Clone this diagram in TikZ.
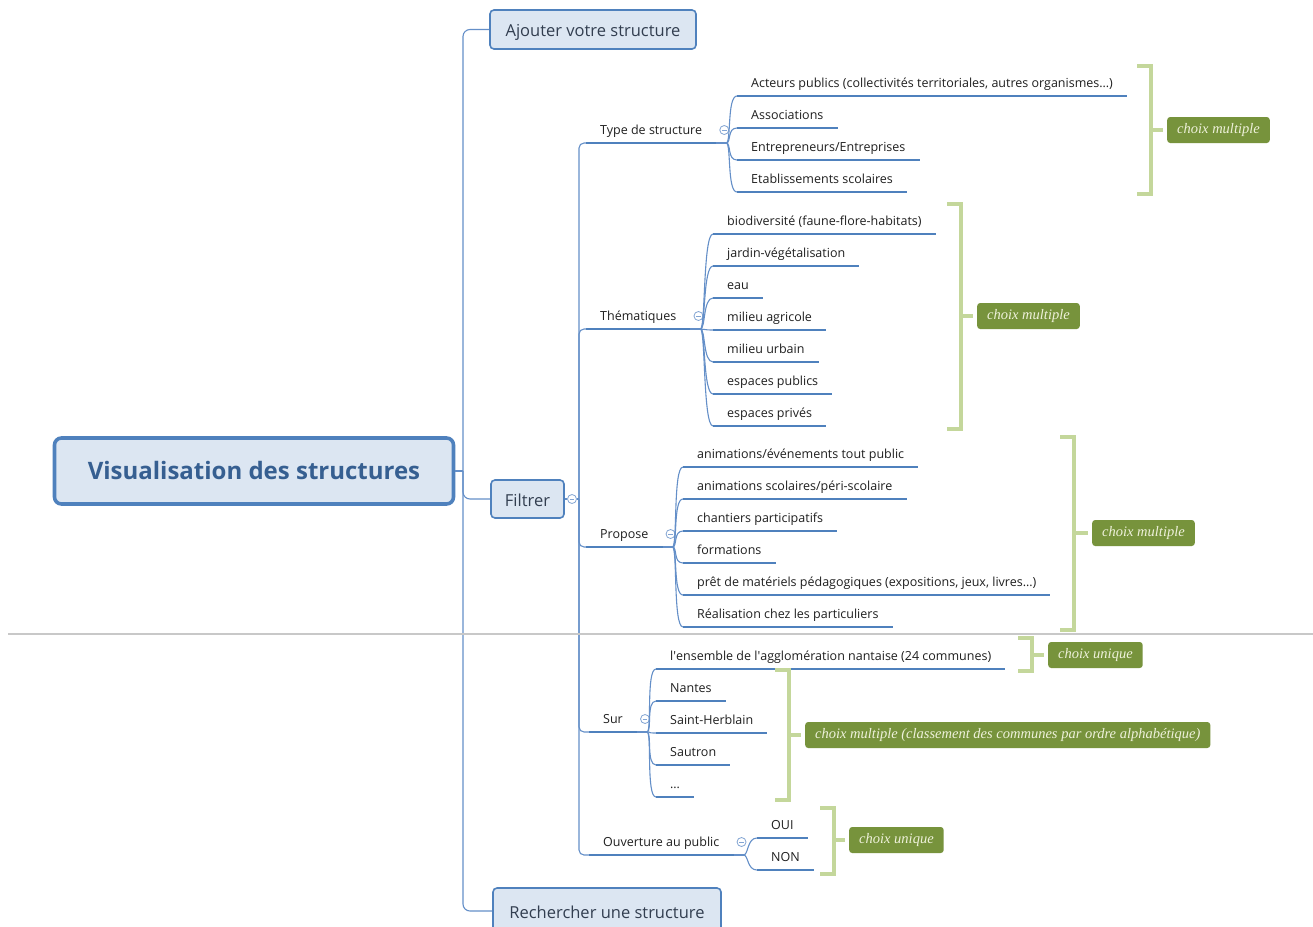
\documentclass[tikz,border=0pt]{standalone}
\usepackage{fontspec}
\setmainfont{Open Sans}
\newfontfamily\choixfont{Liberation Serif}
\usetikzlibrary{calc,positioning}

\definecolor{mapBlue}{RGB}{79,129,189}
\definecolor{lineBlue}{RGB}{100,143,200}
\definecolor{boxFill}{RGB}{220,230,242}
\definecolor{rootText}{RGB}{54,95,145}
\definecolor{boxText}{RGB}{50,62,80}
\definecolor{choixFill}{RGB}{119,147,60}
\definecolor{choixText}{RGB}{238,241,218}
\definecolor{bracketGreen}{RGB}{196,215,155}
\definecolor{seamGray}{RGB}{200,200,200}

\tikzset{
  box/.style={draw=mapBlue, line width=1.6pt, fill=boxFill, rounded corners=4pt,
    text=boxText, text height=14pt, text depth=0pt, font=\fontsize{16.5}{19}\selectfont},
  topic/.style={anchor=south west, inner xsep=14pt, inner ysep=5pt, text height=9pt,
    text depth=3pt, text=black!88, font=\fontsize{12.5}{14}\selectfont},
  uline/.style={draw=mapBlue, line width=2.8pt},
  branch/.style={draw=lineBlue, line width=1.1pt},
  toggle/.style={circle, draw=lineBlue!80, fill=white, line width=0.8pt, minimum size=9pt,
    inner sep=0pt, path picture={\draw[lineBlue!80, line width=0.8pt]
      ([xshift=2.2pt]path picture bounding box.west) -- ([xshift=-2.2pt]path picture bounding box.east);}},
  brk/.style={draw=bracketGreen, line width=4pt},
  choix/.style={fill=choixFill, text=choixText, rounded corners=3pt, anchor=west,
    minimum height=26pt, inner xsep=10pt, font=\choixfont\itshape\fontsize{14.5}{16}\selectfont}
}

\begin{document}
\begin{tikzpicture}[x=1pt,y=-1pt]
  \clip (0,0) rectangle (1313,926);
  \fill[white] (0,0) rectangle (1313,926);

  % draw the main boxes
  \node[box, line width=3.6pt, rounded corners=7pt, minimum width=399pt, minimum height=66pt,
    text=rootText, text height=17pt, font=\bfseries\fontsize{24}{27}\selectfont] (root) at (254,471) {Visualisation des structures};
  \node[box, minimum width=206pt, minimum height=39pt] (ajout) at (593,29.5) {Ajouter votre structure};
  \node[box, minimum width=73pt, minimum height=38pt] (filtrer) at (527.5,499) {Filtrer};
  \node[box, minimum width=228pt, minimum height=46pt] (rech) at (607,911) {Rechercher une structure};

  % draw the trunk
  \coordinate (trunk) at (463,471);
  \draw[branch] (root.east) -- (trunk);
  \foreach \b in {ajout,filtrer,rech}
    \draw[branch, rounded corners=7pt] (trunk) |- (\b.west);

  % the filters
  \node[toggle] (filtrer-t) at (572,499) {};
  \coordinate (fj) at (579,499);
  \draw[branch] (filtrer.east) -- (filtrer-t.west);
  \draw[branch] (filtrer-t.east) -- (fj);

  \node[topic] (type) at (586,143) {Type de structure};
  \node[topic] (them) at (586,329) {Thématiques};
  \node[topic] (prop) at (586,547) {Propose};
  \node[topic] (sur) at (589,732) {Sur};
  \node[topic] (ouv) at (589,855) {Ouverture au public};

  \foreach \n in {type,them,prop,sur,ouv}
  {
    \draw[branch, rounded corners=5pt] (fj) |- (\n.south west);
    \draw[branch] (\n.south east) -- ++(10,0) coordinate (\n-j);
    \draw[uline] (\n.south west) -- (\n.south east);
    \node[toggle] (\n-t) at ($(\n.south east)+(8,-13)$) {};
  }

  % draw the leaves of each filter
  \def\typeLeaves{{Acteurs publics (collectivités territoriales, autres organismes…)},
    Associations, Entrepreneurs/Entreprises, Etablissements scolaires}
  \def\themLeaves{biodiversité (faune-flore-habitats), jardin-végétalisation, eau,
    milieu agricole, milieu urbain, espaces publics, espaces privés}
  \def\propLeaves{animations/événements tout public, animations scolaires/péri-scolaire,
    chantiers participatifs, formations,
    {prêt de matériels pédagogiques (expositions, jeux, livres…)},
    Réalisation chez les particuliers}
  \def\surLeaves{{l\textquotesingle ensemble de l\textquotesingle agglomération nantaise (24 communes)},
    Nantes, Saint-Herblain, Sautron, …}
  \def\ouvLeaves{OUI, NON}

  \foreach \t [count=\i] in \typeLeaves
  {
    \node[topic] (type-\i) at (737,{96+32*(\i-1)}) {\t};
    \draw[branch] (type-j) .. controls +(5,0) and +(-10,0) .. (type-\i.south west);
    \draw[uline] (type-\i.south west) -- (type-\i.south east);
  }
  \foreach \t [count=\i] in \themLeaves
  {
    \node[topic] (them-\i) at (713,{234+32*(\i-1)}) {\t};
    \draw[branch] (them-j) .. controls +(5,0) and +(-10,0) .. (them-\i.south west);
    \draw[uline] (them-\i.south west) -- (them-\i.south east);
  }
  \foreach \t [count=\i] in \propLeaves
  {
    \node[topic] (prop-\i) at (683,{467+32*(\i-1)}) {\t};
    \draw[branch] (prop-j) .. controls +(5,0) and +(-10,0) .. (prop-\i.south west);
    \draw[uline] (prop-\i.south west) -- (prop-\i.south east);
  }
  \foreach \t [count=\i] in \surLeaves
  {
    \node[topic] (sur-\i) at (656,{669+32*(\i-1)}) {\t};
    \draw[branch] (sur-j) .. controls +(5,0) and +(-10,0) .. (sur-\i.south west);
    \draw[uline] (sur-\i.south west) -- (sur-\i.south east);
  }
  \foreach \t [count=\i] in \ouvLeaves
  {
    \node[topic] (ouv-\i) at (757,{838+32*(\i-1)}) {\t};
    \draw[branch] (ouv-j) .. controls +(5,0) and +(-10,0) .. (ouv-\i.south west);
    \draw[uline] (ouv-\i.south west) -- (ouv-\i.south east);
  }

  % draw the brackets and the choices
  \foreach \nm/\xa/\xb/\ya/\yb/\ym/\xc/\txt in {
      type/1137/1151/66/194/130/1167/choix multiple,
      them/947/961/204/429/316/977/choix multiple,
      prop/1060/1074/437/630/533/1092/choix multiple,
      suru/1018/1032/638/671/655/1048/choix unique,
      surm/775/789/670/800/735/805/choix multiple (classement des communes par ordre alphabétique),
      ouv/820/834/808/874/840/849/choix unique}
  {
    \coordinate (\nm-b) at (\xb,\ym);
    \node[choix] (\nm-c) at (\xc,\ym) {\txt};
    \draw[brk] (\xa,\ya) -| (\xb,\yb) -- (\xa,\yb);
    \draw[brk, shorten >=4pt] (\nm-b) -- (\nm-c);
  }

  % the page seam
  \draw[seamGray, line width=1.5pt] (8,634) -- (1313,634);
\end{tikzpicture}
\end{document}
